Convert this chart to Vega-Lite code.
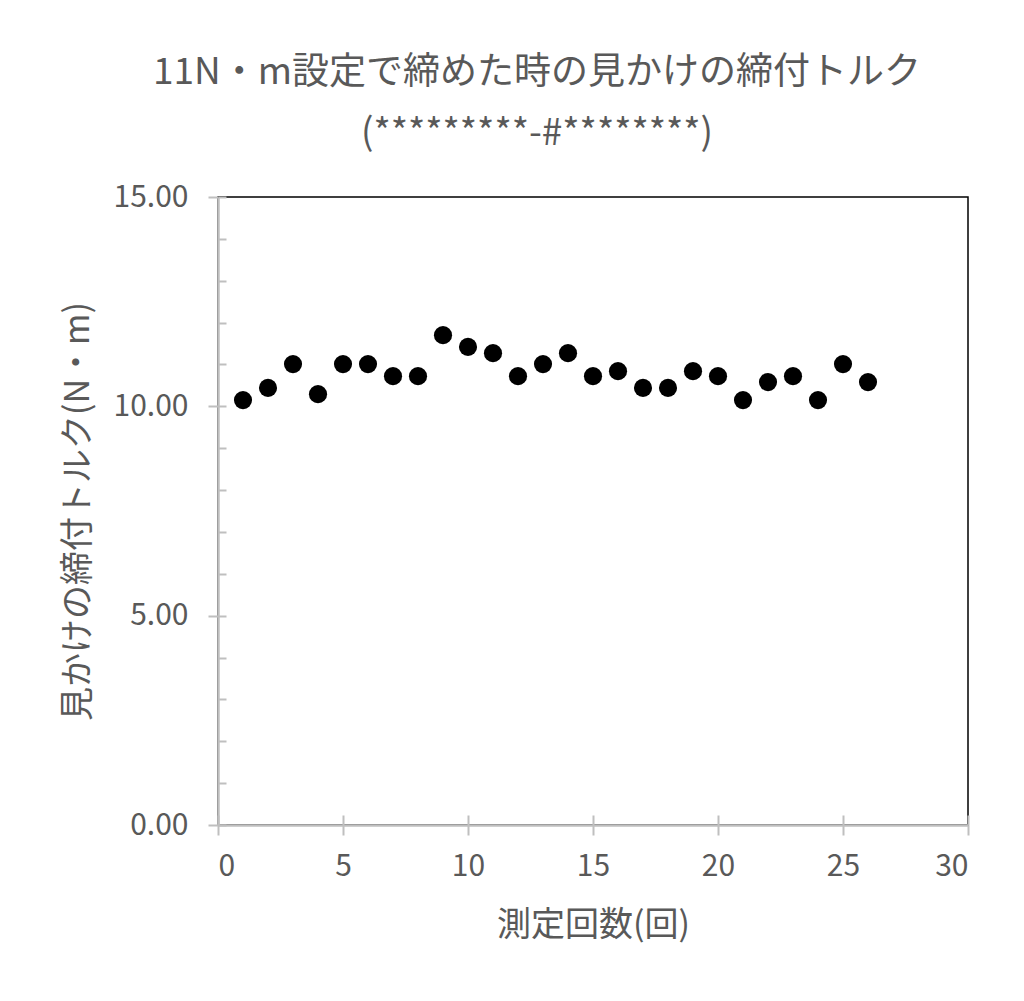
{
  "$schema": "https://vega.github.io/schema/vega-lite/v6.json",
  "width": 750,
  "height": 628,
  "autosize": "none",
  "padding": {"left": 218, "top": 197, "right": 56, "bottom": 176},
  "background": "white",
  "config": {
    "view": {"stroke": "black", "strokeWidth": 1.5},
    "font": "Noto Sans CJK JP"
  },
  "title": {
    "text": ["11N・m設定で締めた時の見かけの締付トルク", "(*********-#********)"],
    "fontSize": 37,
    "fontWeight": "normal",
    "color": "#595959",
    "lineHeight": 61,
    "offset": 29,
    "dx": -56,
    "anchor": "middle",
    "font": "Noto Sans CJK JP"
  },
  "data": {
    "values": [
      {"n": 1, "t": 10.15}, {"n": 2, "t": 10.44}, {"n": 3, "t": 11.01}, {"n": 4, "t": 10.29},
      {"n": 5, "t": 11.01}, {"n": 6, "t": 11.01}, {"n": 7, "t": 10.72}, {"n": 8, "t": 10.72},
      {"n": 9, "t": 11.70}, {"n": 10, "t": 11.42}, {"n": 11, "t": 11.27}, {"n": 12, "t": 10.72},
      {"n": 13, "t": 11.01}, {"n": 14, "t": 11.27}, {"n": 15, "t": 10.72}, {"n": 16, "t": 10.84},
      {"n": 17, "t": 10.44}, {"n": 18, "t": 10.44}, {"n": 19, "t": 10.84}, {"n": 20, "t": 10.72},
      {"n": 21, "t": 10.15}, {"n": 22, "t": 10.58}, {"n": 23, "t": 10.72}, {"n": 24, "t": 10.15},
      {"n": 25, "t": 11.01}, {"n": 26, "t": 10.58}
    ]
  },
  "layer": [
    {
      "mark": {"type": "point", "opacity": 0},
      "encoding": {
        "x": {
          "field": "n", "type": "quantitative",
          "scale": {"domain": [0, 30], "nice": false, "zero": false},
          "axis": {
            "orient": "bottom", "values": [0, 5, 10, 15, 20, 25, 30],
            "tickSize": -10, "tickColor": "#bfbfbf", "tickWidth": 2,
            "labels": false, "domain": false, "title": null, "grid": false
          }
        },
        "y": {
          "field": "t", "type": "quantitative",
          "scale": {"domain": [0, 15], "nice": false, "zero": false},
          "axis": {
            "orient": "left",
            "values": [0, 1, 2, 3, 4, 5, 6, 7, 8, 9, 10, 11, 12, 13, 14, 15],
            "tickSize": -8, "tickColor": "#bfbfbf", "tickWidth": 2,
            "labels": false, "domain": false, "title": null, "grid": false
          }
        }
      }
    },
    {
      "mark": {"type": "point", "filled": true, "shape": "circle", "color": "black", "size": 330, "opacity": 1},
      "encoding": {
        "x": {
          "field": "n", "type": "quantitative",
          "scale": {"domain": [0, 30], "nice": false, "zero": false},
          "axis": {
            "orient": "bottom", "values": [0, 5, 10, 15, 20, 25, 30],
            "tickSize": 10, "tickColor": "#bfbfbf", "tickWidth": 2,
            "domainColor": "#bfbfbf", "domainWidth": 2.5,
            "labelFontSize": 30, "labelColor": "#595959", "labelPadding": 16,
            "labelFont": "Noto Sans CJK JP",
            "title": "測定回数(回)", "titleFontSize": 34, "titleColor": "#595959",
            "titleFontWeight": "normal", "titlePadding": 27, "titleFont": "Noto Sans CJK JP",
            "grid": false
          }
        },
        "y": {
          "field": "t", "type": "quantitative",
          "scale": {"domain": [0, 15], "nice": false, "zero": false},
          "axis": {
            "orient": "left", "values": [0, 5, 10, 15], "format": ".2f",
            "tickSize": 10, "tickColor": "#bfbfbf", "tickWidth": 2,
            "domainColor": "#bfbfbf", "domainWidth": 2.5,
            "labelFontSize": 30, "labelColor": "#595959", "labelPadding": 20,
            "labelFont": "Noto Sans CJK JP",
            "title": "見かけの締付トルク(N・m)", "titleFontSize": 34, "titleColor": "#595959",
            "titleFontWeight": "normal", "titlePadding": 18, "titleFont": "Noto Sans CJK JP",
            "grid": false
          }
        }
      }
    }
  ],
  "resolve": {"axis": {"x": "independent", "y": "independent"}}
}
